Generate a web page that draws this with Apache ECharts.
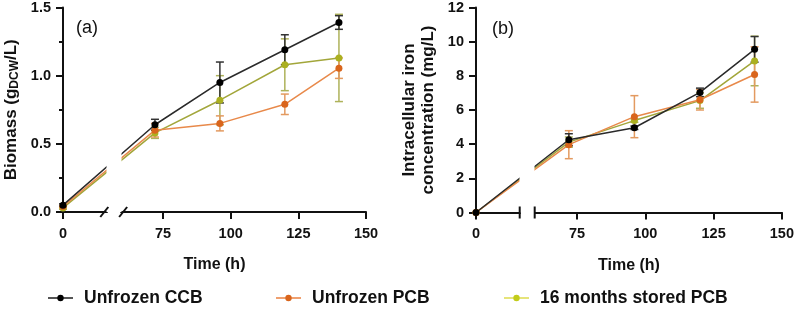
<!DOCTYPE html>
<html>
<head>
<meta charset="utf-8">
<script src="https://cdn.jsdelivr.net/npm/echarts@6/dist/echarts.min.js"></script>
<style>
html,body{margin:0;padding:0;background:#fff;}
#chart{width:797px;height:318px;}
</style>
</head>
<body>
<div id="chart"></div>
<script>
// ---- data ----
const timeH = [0, 72, 96, 120, 140];
const xTicks = [0, 75, 100, 125, 150];
const seriesNames = ['Unfrozen CCB', 'Unfrozen PCB', '16 months stored PCB'];

const bioCCB = [0.05, 0.64, 0.95, 1.19, 1.39];
const bioCCBErr = [0.01, 0.04, 0.15, 0.11, 0.05];
const bioPCB = [0.04, 0.60, 0.65, 0.79, 1.055];
const bioPCBErr = [0.01, 0.05, 0.055, 0.075, 0.075];
const bioStored = [0.03, 0.58, 0.82, 1.08, 1.13];
const bioStoredErr = [0.01, 0.04, 0.18, 0.19, 0.32];

const ironCCB = [0, 4.26, 4.96, 7.03, 9.55];
const ironCCBErr = [0, 0.35, 0.1, 0.25, 0.75];
const ironPCB = [0, 3.97, 5.61, 6.6, 8.08];
const ironPCBErr = [0, 0.82, 1.23, 0.6, 1.62];
const ironStored = [0, 4.12, 5.38, 6.55, 8.87];
const ironStoredErr = [0, 0.3, 0.1, 0.45, 1.45];

const breakStart = 16;
const breakEnd = 59.5;

// ---- styles ----
const FONT = '"Liberation Sans", Arial, sans-serif';
const C = {
  ccb: {line: '#2a2a2a', mark: '#000000', err: '#333333'},
  pcb: {line: '#E8894A', mark: '#D9651C', err: '#E39A60'},
  sto: {line: '#A2A63A', mark: '#ABB020', err: '#AEB25A'}
};

function pts(ys) { return timeH.map((t, i) => [t, ys[i]]); }
function errPts(ys, es) { return timeH.map((t, i) => [t, ys[i], es[i]]); }

function lineSeries(name, idx, ys, col, z) {
  return {
    name, type: 'line', xAxisIndex: idx, yAxisIndex: idx, data: pts(ys),
    symbol: 'circle', symbolSize: 7, z,
    itemStyle: {color: col.mark},
    lineStyle: {color: col.line, width: 1.5}
  };
}
function errSeries(idx, ys, es, col, z) {
  return {
    type: 'custom', xAxisIndex: idx, yAxisIndex: idx, data: errPts(ys, es), z, silent: true,
    encode: {x: 0, y: 1},
    renderItem(params, api) {
      const x = api.value(0), y = api.value(1), e = api.value(2);
      if (!e) return null;
      const t = api.coord([x, y + e]), b = api.coord([x, y - e]);
      const hw = 4, st = {stroke: col.err, lineWidth: 1.5};
      return {type: 'group', children: [
        {type: 'line', shape: {x1: t[0], y1: t[1], x2: b[0], y2: b[1]}, style: st},
        {type: 'line', shape: {x1: t[0] - hw, y1: t[1], x2: t[0] + hw, y2: t[1]}, style: st},
        {type: 'line', shape: {x1: b[0] - hw, y1: b[1], x2: b[0] + hw, y2: b[1]}, style: st}
      ]};
    }
  };
}
// break marks on x axis: 'slash' for panel a, 'bar' for panel b
function breakMarks(idx, kind) {
  return {
    type: 'custom', xAxisIndex: idx, yAxisIndex: idx, silent: true, z: 200,
    data: [[breakStart, 0], [breakEnd, 0]],
    encode: {x: 0, y: 1},
    renderItem(params, api) {
      const p = api.coord([api.value(0), api.value(1)]);
      const st = {stroke: '#111', lineWidth: 2};
      const dir = params.dataIndex === 0 ? -1 : 1;
      if (kind === 'slash') {
        const cx = p[0] + dir * 2;
        return {type: 'line', shape: {x1: cx - 4, y1: p[1] + 5, x2: cx + 4, y2: p[1] - 5}, style: st};
      }
      return {type: 'line', shape: {x1: p[0], y1: p[1] - 6, x2: p[0], y2: p[1] + 6}, style: st};
    }
  };
}

function xAxisCfg(idx) {
  return {
    type: 'value', gridIndex: idx, min: 0, max: 150, interval: 25,
    breaks: [{start: breakStart, end: breakEnd, gap: '4.9%'}],
    breakArea: {show: true, itemStyle: {color: '#fff', borderColor: '#fff', borderWidth: 0, opacity: 1},
      zigzagAmplitude: 0, expandOnClick: false},
    name: 'Time (h)', nameLocation: 'middle', nameGap: 45,
    nameTextStyle: {fontFamily: FONT, fontWeight: 'bold', fontSize: 16, color: '#111'},
    axisLine: {lineStyle: {color: '#111', width: 2}},
    axisTick: {show: true, length: 7, lineStyle: {color: '#111', width: 2}, customValues: xTicks},
    axisLabel: {fontFamily: FONT, fontWeight: 'bold', fontSize: 14.5, color: '#111', margin: 14, customValues: xTicks},
    splitLine: {show: false}
  };
}

const option = {
  animation: false,
  backgroundColor: '#fff',
  title: [
    {text: '(a)', left: 71, top: 14, textStyle: {fontFamily: FONT, fontWeight: 'normal', fontSize: 18, color: '#111'}},
    {text: '(b)', left: 487, top: 15, textStyle: {fontFamily: FONT, fontWeight: 'normal', fontSize: 18, color: '#111'}}
  ],
  grid: [
    {left: 58, right: 431, top: 7, bottom: 106},
    {left: 476, right: 12, top: 6, bottom: 105.5}
  ],
  xAxis: [xAxisCfg(0), xAxisCfg(1)],
  yAxis: [
    {
      type: 'value', gridIndex: 0, min: 0, max: 1.5, interval: 0.5,
      name: 'Biomass (g{sub|DCW}/L)', nameLocation: 'middle', nameGap: 42,
      nameTextStyle: {fontFamily: FONT, fontWeight: 'bold', fontSize: 17, color: '#111', lineHeight: 20,
        rich: {sub: {fontFamily: FONT, fontWeight: 'bold', fontSize: 12, color: '#111', verticalAlign: 'bottom', lineHeight: 12}}},
      axisLine: {show: true, lineStyle: {color: '#111', width: 2}},
      axisTick: {show: true, length: 7, lineStyle: {color: '#111', width: 2}},
      minorTick: {show: true, splitNumber: 2, length: 4, lineStyle: {color: '#111', width: 2}},
      axisLabel: {fontFamily: FONT, fontWeight: 'bold', fontSize: 14.5, color: '#111', margin: 12,
        formatter: v => v.toFixed(1)},
      splitLine: {show: false}
    },
    {
      type: 'value', gridIndex: 1, min: 0, max: 12, interval: 2,
      name: 'Intracellular iron\nconcentration (mg/L)', nameLocation: 'middle', nameGap: 38,
      nameTextStyle: {fontFamily: FONT, fontWeight: 'bold', fontSize: 17, color: '#111', lineHeight: 19},
      axisLine: {show: true, lineStyle: {color: '#111', width: 2}},
      axisTick: {show: true, length: 7, lineStyle: {color: '#111', width: 2}},
      axisLabel: {fontFamily: FONT, fontWeight: 'bold', fontSize: 14.5, color: '#111', margin: 12},
      splitLine: {show: false}
    }
  ],
  legend: [
    {data: [{name: seriesNames[0], itemStyle: {color: C.ccb.mark}, lineStyle: {color: '#555'}}], left: 42, top: 284},
    {data: [{name: seriesNames[1], itemStyle: {color: C.pcb.mark}, lineStyle: {color: '#EFA070'}}], left: 270, top: 284},
    {data: [{name: seriesNames[2], itemStyle: {color: '#C2CC1A'}, lineStyle: {color: '#E6E47A'}}], left: 498, top: 284}
  ].map(l => Object.assign(l, {
    itemWidth: 25, itemHeight: 8, selectedMode: false,
    textStyle: {fontFamily: FONT, fontWeight: 'bold', fontSize: 17.5, color: '#111', padding: [0, 0, 0, 6]}
  })),
  series: [
    errSeries(0, bioStored, bioStoredErr, C.sto, 3),
    errSeries(0, bioPCB, bioPCBErr, C.pcb, 4),
    errSeries(0, bioCCB, bioCCBErr, C.ccb, 5),
    lineSeries(seriesNames[2], 0, bioStored, C.sto, 6),
    lineSeries(seriesNames[1], 0, bioPCB, C.pcb, 7),
    lineSeries(seriesNames[0], 0, bioCCB, C.ccb, 8),
    errSeries(1, ironStored, ironStoredErr, C.sto, 3),
    errSeries(1, ironPCB, ironPCBErr, C.pcb, 4),
    errSeries(1, ironCCB, ironCCBErr, C.ccb, 5),
    lineSeries(seriesNames[2], 1, ironStored, C.sto, 6),
    lineSeries(seriesNames[1], 1, ironPCB, C.pcb, 7),
    lineSeries(seriesNames[0], 1, ironCCB, C.ccb, 8),
    breakMarks(0, 'slash'),
    breakMarks(1, 'bar')
  ]
};

const chart = echarts.init(document.getElementById('chart'), null, {renderer: 'canvas'});
chart.setOption(option);
</script>
</body>
</html>
